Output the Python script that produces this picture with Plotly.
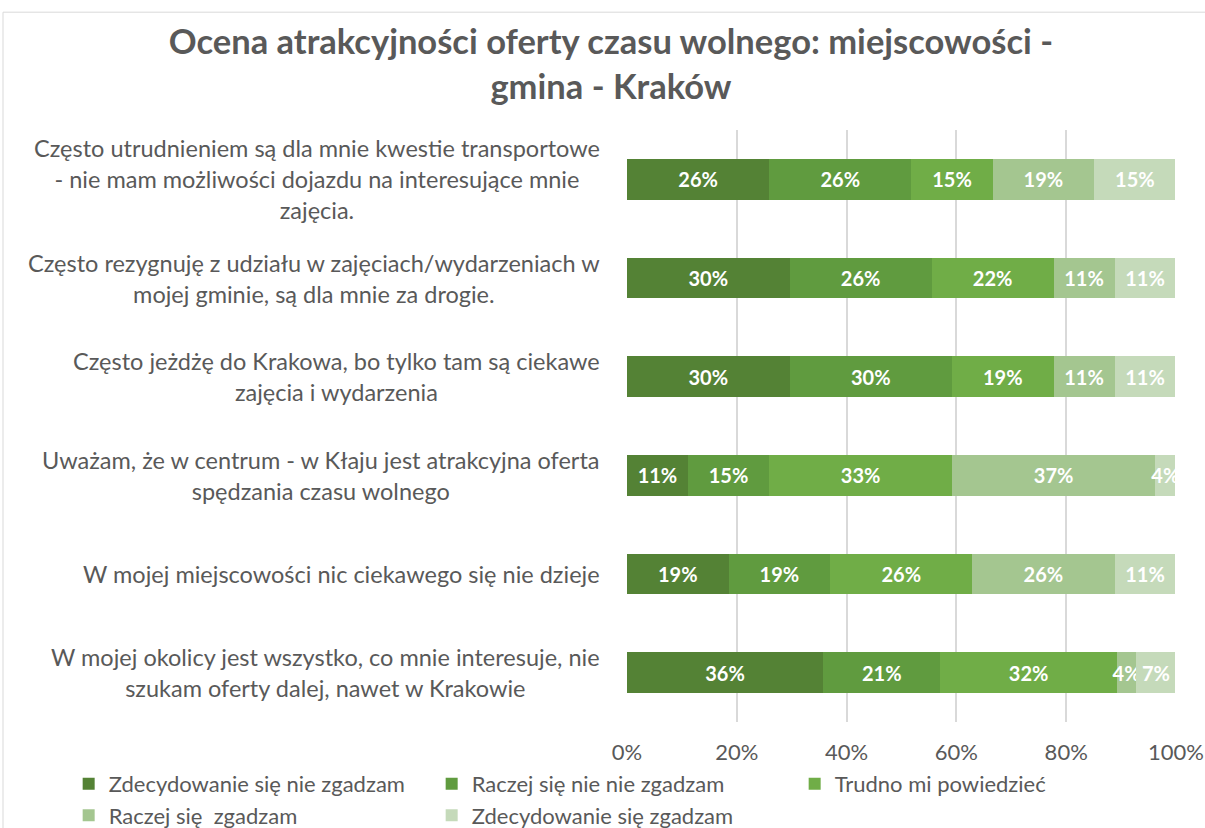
import plotly.graph_objects as go

categories = [
    "Często utrudnieniem są dla mnie kwestie transportowe<br>- nie mam możliwości dojazdu na interesujące mnie<br>zajęcia.",
    "Często rezygnuję z udziału w zajęciach/wydarzeniach w<br>mojej gminie, są dla mnie za drogie.",
    "Często jeżdżę do Krakowa, bo tylko tam są ciekawe<br>zajęcia i wydarzenia",
    "Uważam, że w centrum - w Kłaju jest atrakcyjna oferta<br>spędzania czasu wolnego",
    "W mojej miejscowości nic ciekawego się nie dzieje",
    "W mojej okolicy jest wszystko, co mnie interesuje, nie<br>szukam oferty dalej, nawet w Krakowie",
]
series_names = [
    "Zdecydowanie się nie zgadzam",
    "Raczej się nie nie zgadzam",
    "Trudno mi powiedzieć",
    "Raczej się  zgadzam",
    "Zdecydowanie się zgadzam",
]
zdecydowanie_nie = [0.259, 0.296, 0.296, 0.111, 0.185, 0.357]
raczej_nie = [0.259, 0.259, 0.296, 0.148, 0.185, 0.214]
trudno = [0.148, 0.222, 0.185, 0.333, 0.259, 0.321]
raczej_tak = [0.185, 0.111, 0.111, 0.370, 0.259, 0.036]
zdecydowanie_tak = [0.148, 0.111, 0.111, 0.037, 0.111, 0.071]
tick_vals = [0, 0.2, 0.4, 0.6, 0.8, 1.0]
tick_text = ["0%", "20%", "40%", "60%", "80%", "100%"]

colors = ["#548235", "#609B3F", "#70AD47", "#A4C690", "#C5DABA"]
FONT = "Lato"
GRAY = "#595959"

fig = go.Figure()
for name, vals, col in zip(series_names,
                           [zdecydowanie_nie, raczej_nie, trudno, raczej_tak, zdecydowanie_tak],
                           colors):
    fig.add_trace(go.Bar(
        y=categories, x=vals, name=name, orientation="h",
        marker=dict(color=col, line=dict(width=0)),
        width=0.41,
        text=vals, texttemplate="%{x:.0%}", textposition="inside",
        insidetextanchor="middle", constraintext="none", textangle=0,
        textfont=dict(family=FONT, size=20, color="white", weight="bold"),
        cliponaxis=False,
    ))

for c in categories:
    fig.add_annotation(
        xref="paper", yref="y", x=-0.045, y=c, xanchor="right", yanchor="middle",
        text="<span style='font-size:23.5px'>" + c.replace("<br>", "</span><br><span style='font-size:23.5px'>") + "</span>",
        showarrow=False, align="center",
        font=dict(family=FONT, size=24, color=GRAY),
    )

fig.add_shape(type="rect", xref="paper", yref="paper",
              x0=-1.1366, x1=1.06, y0=-0.19, y1=1.199,
              line=dict(color="#D9D9D9", width=1), fillcolor="rgba(0,0,0,0)", layer="below")

fig.update_layout(
    barmode="stack",
    width=1205, height=828,
    margin=dict(l=627, r=29, t=130, b=106, autoexpand=False),
    paper_bgcolor="white", plot_bgcolor="white",
    title=dict(text="<b>Ocena atrakcyjności oferty czasu wolnego: miejscowości -<br>gmina - Kraków</b>",
               x=0.507, xanchor="center", y=0.935, yanchor="middle",
               font=dict(family=FONT, size=34.5, color=GRAY)),
    xaxis=dict(range=[0, 1], tickvals=tick_vals, ticktext=tick_text,
               showgrid=True, gridcolor="#D9D9D9", gridwidth=1.5,
               zeroline=False, showline=False, ticks="", ticklabelstandoff=15,
               tickfont=dict(family=FONT, size=22, color=GRAY)),
    yaxis=dict(categoryorder="array", categoryarray=categories, autorange="reversed",
               showticklabels=False, showgrid=False, zeroline=False, showline=False, ticks=""),
    legend=dict(orientation="h", x=-1.017, xanchor="left", y=-0.069, yanchor="top",
                font=dict(family=FONT, size=22, color=GRAY),
                entrywidth=318, entrywidthmode="pixels",
                traceorder="normal", itemwidth=30, tracegroupgap=0),
    showlegend=True,
)

fig.write_html("out.html", config={"displayModeBar": False},
               post_script="document.body.style.margin='0';")
